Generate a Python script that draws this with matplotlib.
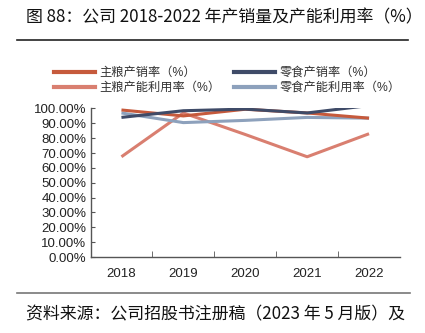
import matplotlib
matplotlib.use("Agg")
import matplotlib.pyplot as plt
from matplotlib.lines import Line2D
from matplotlib.ticker import FuncFormatter, FixedLocator

plt.rcParams['font.family'] = ['Liberation Sans', 'Noto Sans CJK SC', 'DejaVu Sans']

years = ["2018", "2019", "2020", "2021", "2022"]
staple_sales = [99.0, 95.0, 99.5, 97.0, 93.5]
snack_sales = [94.0, 98.5, 99.6, 97.0, 102.0]
staple_util = [67.5, 97.0, 82.5, 67.5, 83.0]
snack_util = [97.0, 90.5, 92.0, 94.0, 93.5]

series_names = ["主粮产销率（%）", "零食产销率（%）", "主粮产能利用率（%）", "零食产能利用率（%）"]
colors = ["#C65A3C", "#3F4B68", "#D97F70", "#8DA1BC"]
series = [staple_sales, snack_sales, staple_util, snack_util]

fig = plt.figure(figsize=(4.25, 3.33), dpi=100)
W, H = 425, 333

def fx(px):
    return px / W

def fy(py):
    return 1 - py / H

ax = fig.add_axes([fx(90.5), fy(257), fx(400 - 90.5), fy(108.5) - fy(257)])
x = list(range(len(years)))
order = [2, 3, 0, 1]
for z, i in enumerate(order):
    ax.plot(x, series[i], color=colors[i], lw=2.2, solid_capstyle='butt', zorder=3 + z)

ax.set_xlim(-0.5, len(years) - 0.5)
ax.set_ylim(0, 100)
ax.yaxis.set_major_locator(FixedLocator([i * 10 for i in range(11)]))
ax.yaxis.set_major_formatter(FuncFormatter(lambda v, p: f"{v:.2f}%"))
ax.set_xticks(x)
ax.set_xticklabels(years)
ax.set_xticks([i + 0.5 for i in range(len(years) - 1)], minor=True)
ax.tick_params(axis='x', which='major', length=0, pad=8, labelsize=9.5)
ax.tick_params(axis='x', which='minor', length=4, direction='in', color='#555555')
ax.tick_params(axis='y', which='major', length=3, direction='in', labelsize=9.5, pad=3, color='#555555')
for lbl in ax.get_yticklabels() + ax.get_xticklabels():
    lbl.set_color('#222222')
for s in ['top', 'right']:
    ax.spines[s].set_visible(False)
for s in ['left', 'bottom']:
    ax.spines[s].set_color('#555555')
    ax.spines[s].set_linewidth(1.0)

# legend: two columns placed separately (row-major like the reference)
for idxs, xpx in [([0, 2], 49), ([1, 3], 229)]:
    handles = [Line2D([0], [0], color=colors[i], lw=3) for i in idxs]
    labels = [series_names[i] for i in idxs]
    leg = fig.legend(handles, labels, loc='upper left', bbox_to_anchor=(fx(xpx), fy(62)),
                     ncol=1, frameon=False, fontsize=8.8, handlelength=3.4, handletextpad=0.3,
                     labelspacing=0.25, borderaxespad=0)
    for t in leg.get_texts():
        t.set_color('#333333')

# title
fig.text(fx(26), fy(17), "图 88：公司 2018-2022 年产销量及产能利用率（%）",
         fontsize=12.2, va='center', ha='left', color='#111111',
         family=['Noto Sans CJK SC', 'DejaVu Sans'])
fig.add_artist(Line2D([fx(17), fx(408)], [fy(40), fy(40)], color='#222222', lw=1.2))
fig.add_artist(Line2D([fx(17), fx(410)], [fy(293), fy(293)], color='#777777', lw=1.2))
fig.text(fx(26), fy(314), "资料来源：公司招股书注册稿（2023 年 5 月版）及",
         fontsize=12.2, va='center', ha='left', color='#111111',
         family=['Noto Sans CJK SC', 'DejaVu Sans'])

fig.savefig("out.png", dpi=100)
